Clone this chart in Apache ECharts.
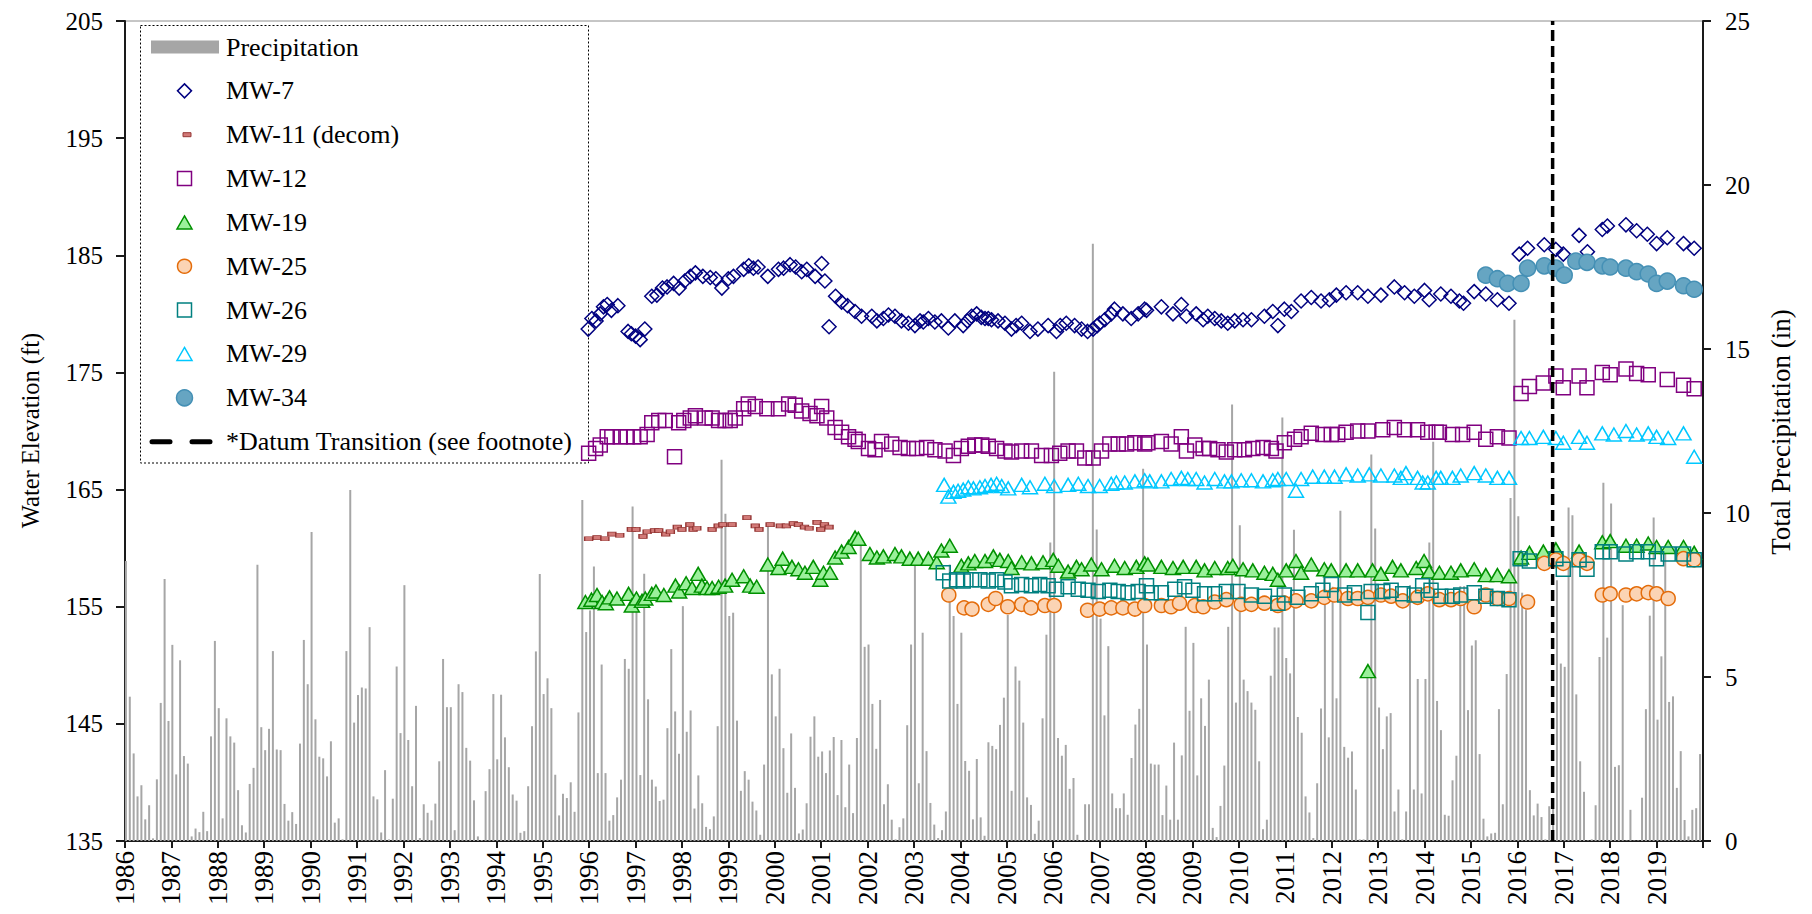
<!DOCTYPE html>
<html>
<head>
<meta charset="utf-8">
<title>Water Elevation and Precipitation</title>
<script src="https://cdn.jsdelivr.net/npm/echarts@6.0.0/dist/echarts.min.js"></script>
<style>
  html, body { margin: 0; padding: 0; background: #ffffff; }
  #chart { width: 1812px; height: 914px; }
</style>
</head>
<body>
<div id="chart"></div>
<script>
// ---------------------------------------------------------------
// Monthly total precipitation (in), Jan 1986 .. Dec 2019, one row per year
// ---------------------------------------------------------------
const precipStartYear = 1986;
const monthlyPrecip = [
  8.54, 4.40, 2.67, 1.36, 1.70, 0.66, 1.09, 0.08, 1.88, 4.21, 7.99, 3.66, // 1986
  5.98, 2.03, 5.51, 2.59, 2.36, 0.14, 0.38, 0.27, 0.89, 0.30, 3.19, 6.10, // 1987
  4.05, 0.69, 3.74, 3.19, 3.00, 1.55, 0.48, 0.26, 1.74, 2.23, 8.42, 3.47, // 1988
  2.77, 3.42, 5.79, 2.79, 2.77, 1.13, 0.62, 0.88, 0.52, 2.97, 6.13, 4.78, // 1989
  9.42, 3.71, 2.57, 2.52, 1.97, 3.04, 0.56, 0.69, 0.05, 5.79, 10.70, 3.61, // 1990
  4.45, 4.68, 4.65, 6.52, 1.36, 1.27, 0.26, 2.16, 0.05, 1.29, 5.32, 3.29, // 1991
  7.80, 3.08, 1.67, 4.12, 0.09, 1.12, 0.86, 0.63, 1.14, 2.43, 5.55, 4.08, // 1992
  4.08, 0.33, 4.78, 4.54, 2.84, 2.45, 1.24, 0.14, 0.03, 1.52, 2.19, 4.48, // 1993
  2.49, 4.46, 3.16, 2.25, 1.42, 1.23, 0.25, 0.30, 1.67, 3.50, 5.78, 8.14, // 1994
  4.48, 4.96, 4.05, 2.02, 0.78, 1.44, 1.31, 1.79, 0.89, 3.92, 10.40, 6.37, // 1995
  7.03, 8.37, 2.07, 5.38, 2.07, 0.62, 0.79, 1.33, 1.87, 5.55, 5.25, 10.20, // 1996
  7.10, 2.01, 8.15, 4.32, 1.87, 1.66, 1.22, 1.26, 3.44, 5.85, 3.95, 2.66, // 1997
  7.16, 3.33, 3.98, 0.99, 2.00, 1.15, 0.43, 0.36, 0.75, 3.50, 11.62, 9.98, // 1998
  6.86, 6.96, 3.67, 1.53, 2.13, 1.87, 1.20, 0.93, 0.19, 2.33, 9.60, 5.08, // 1999
  3.80, 5.25, 2.83, 1.47, 3.28, 1.62, 0.23, 0.35, 1.15, 3.18, 3.80, 2.57, // 2000
  2.73, 2.07, 2.76, 3.17, 1.40, 3.08, 1.03, 2.33, 0.85, 3.14, 9.20, 5.92, // 2001
  5.99, 4.18, 2.81, 4.30, 1.12, 1.73, 0.65, 0.05, 0.42, 0.69, 3.53, 5.99, // 2002
  8.46, 1.76, 6.35, 2.74, 1.16, 0.50, 0.09, 0.33, 0.90, 8.43, 6.86, 4.18, // 2003
  6.35, 2.44, 2.14, 0.66, 2.50, 0.72, 0.16, 3.01, 2.90, 2.80, 3.54, 4.37, // 2004
  6.89, 1.53, 5.32, 4.89, 3.61, 1.33, 1.10, 0.22, 0.62, 3.74, 6.29, 9.10, // 2005
  14.31, 3.14, 2.60, 2.93, 1.59, 1.92, 0.19, 0.03, 1.12, 1.12, 18.21, 9.50, // 2006
  6.78, 3.83, 5.94, 1.45, 1.00, 1.00, 1.45, 0.80, 2.53, 3.55, 4.03, 11.35, // 2007
  5.99, 2.36, 2.33, 2.33, 0.79, 1.69, 0.65, 3.00, 0.65, 2.61, 6.53, 3.97, // 2008
  6.04, 2.00, 4.35, 3.51, 4.92, 0.40, 0.12, 1.07, 2.30, 6.53, 13.31, 4.22, // 2009
  9.63, 4.92, 4.57, 4.22, 4.00, 2.43, 0.36, 0.65, 5.04, 6.51, 6.51, 12.91, // 2010
  5.58, 5.11, 9.49, 3.78, 3.30, 1.36, 0.87, 0.09, 1.76, 4.04, 8.03, 3.16, // 2011
  7.75, 4.35, 10.07, 2.87, 2.54, 2.73, 1.57, 0.05, 0.05, 5.18, 11.78, 9.53, // 2012
  4.07, 2.80, 3.80, 3.90, 0.90, 1.57, 0.05, 0.90, 7.80, 1.57, 4.94, 1.45, // 2013
  4.94, 9.10, 12.17, 4.27, 3.38, 0.80, 0.77, 1.85, 2.60, 7.77, 7.77, 3.99, // 2014
  5.96, 6.12, 2.65, 0.68, 0.14, 0.23, 0.25, 4.02, 1.12, 5.09, 10.46, 15.89, // 2015
  9.90, 7.57, 7.04, 1.55, 0.78, 1.14, 0.73, 0.05, 1.06, 1.00, 7.95, 5.41, // 2016
  5.31, 10.17, 9.93, 4.47, 2.43, 1.50, 0.02, 0.05, 1.09, 5.61, 10.92, 6.20, // 2017
  10.29, 2.26, 2.31, 7.19, 0.02, 0.95, 0.02, 0.02, 1.32, 4.02, 6.87, 9.86, // 2018
  3.70, 5.63, 8.95, 4.24, 4.41, 1.62, 2.74, 0.64, 0.14, 0.95, 1.00, 2.65  // 2019
];

// ---------------------------------------------------------------
// Groundwater elevations (ft): [decimal year, elevation]
// ---------------------------------------------------------------
const mw7 = [
  [1995.98,178.7],[1996.06,179.6],[1996.15,179.4],[1996.24,180.0],[1996.31,180.6],[1996.39,180.8],[1996.48,180.3],[1996.62,180.7],
  [1996.84,178.5],[1996.91,178.3],[1997.00,178.1],[1997.10,177.8],[1997.20,178.7],
  [1997.35,181.5],[1997.46,181.6],[1997.58,182.2],[1997.68,182.3],[1997.82,182.6],[1997.94,182.2],[1998.06,182.8],[1998.18,183.2],
  [1998.29,183.5],[1998.45,183.2],[1998.61,183.1],[1998.73,183.0],[1998.86,182.2],[1999.00,183.0],[1999.11,183.2],[1999.33,183.8],
  [1999.44,184.1],[1999.54,183.9],[1999.64,184.0],[1999.85,183.2],[2000.08,183.8],[2000.19,183.9],[2000.33,184.2],[2000.45,184.0],
  [2000.58,183.6],[2000.69,183.8],[2000.87,183.2],[2001.01,184.3],[2001.08,182.8],[2001.17,178.9],[2001.31,181.5],[2001.44,181.0],
  [2001.57,180.7],[2001.73,180.2],[2001.87,179.8],[2002.09,179.8],[2002.20,179.4],[2002.34,179.6],[2002.45,179.9],[2002.59,179.8],
  [2002.73,179.4],[2002.88,179.2],[2003.02,179.0],[2003.13,179.4],[2003.20,179.3],[2003.31,179.6],[2003.45,179.3],[2003.59,179.4],
  [2003.74,178.8],[2003.88,179.4],[2004.06,179.0],[2004.15,179.4],[2004.24,179.8],[2004.35,180.0],[2004.45,179.7],[2004.53,179.6],
  [2004.60,179.6],[2004.67,179.5],[2004.81,179.4],[2004.96,179.2],[2005.10,178.7],[2005.20,179.0],[2005.32,179.2],[2005.50,178.5],
  [2005.67,178.7],[2005.89,179.0],[2006.07,178.5],[2006.15,179.0],[2006.28,179.2],[2006.46,179.0],[2006.61,178.7],[2006.74,178.5],
  [2006.86,178.7],[2006.95,179.0],[2007.00,179.2],[2007.11,179.5],[2007.25,180.0],[2007.32,180.4],[2007.50,180.0],[2007.68,179.6],
  [2007.83,180.0],[2007.97,180.4],[2008.01,180.3],[2008.33,180.6],[2008.58,180.0],[2008.76,180.8],[2008.87,179.8],[2009.08,180.0],
  [2009.23,179.5],[2009.33,179.8],[2009.48,179.6],[2009.62,179.4],[2009.76,179.2],[2009.91,179.4],[2010.09,179.5],[2010.27,179.5],
  [2010.55,179.8],[2010.73,180.2],[2010.84,179.0],[2010.98,180.4],[2011.13,180.2],[2011.34,181.1],[2011.56,181.4],[2011.77,181.1],
  [2011.95,181.2],[2012.10,181.6],[2012.31,181.8],[2012.56,181.8],[2012.78,181.5],[2013.06,181.6],[2013.35,182.3],[2013.57,181.8],
  [2013.78,181.5],[2014.00,182.0],[2014.10,181.2],[2014.35,181.7],[2014.57,181.5],[2014.75,181.1],[2014.84,180.9],[2015.07,181.9],
  [2015.32,181.7],[2015.57,181.2],[2015.82,180.9],[2016.04,185.1],[2016.22,185.6],[2016.58,185.9],[2016.83,185.5],[2016.99,185.1],
  [2017.33,186.7],[2017.51,185.3],[2017.83,187.2],[2017.94,187.5],[2018.34,187.6],[2018.57,187.1],[2018.80,186.8],[2019.00,186.0],
  [2019.23,186.5],[2019.58,186.0],[2019.81,185.6]
];

const mw11 = [
  [1995.99,160.8],[1996.17,160.9],[1996.34,160.8],[1996.49,161.2],[1996.66,161.1],[1996.91,161.6],[1997.01,161.6],[1997.16,161.0],
  [1997.25,161.4],[1997.41,161.5],[1997.50,161.5],[1997.65,161.2],[1997.75,161.4],[1997.90,161.8],[1998.00,161.6],[1998.17,162.0],
  [1998.24,161.6],[1998.32,161.7],[1998.65,161.6],[1998.78,161.9],[1998.88,162.0],[1999.08,162.0],[1999.40,162.6],[1999.58,161.9],
  [1999.66,161.6],[1999.90,162.0],[2000.12,161.9],[2000.25,161.9],[2000.40,162.1],[2000.51,162.0],[2000.64,161.8],[2000.74,161.7],
  [2000.91,162.2],[2000.99,161.6],[2001.07,162.0],[2001.17,161.8]
];

const mw12 = [
  [1995.99,168.1],[1996.14,168.5],[1996.24,168.8],[1996.39,169.5],[1996.49,169.5],[1996.67,169.5],[1996.82,169.5],[1996.96,169.5],
  [1997.10,169.5],[1997.25,169.7],[1997.35,170.7],[1997.50,170.9],[1997.64,170.9],[1997.84,167.8],[1997.93,170.7],[1998.04,170.9],
  [1998.18,171.1],[1998.29,171.3],[1998.50,171.1],[1998.65,171.1],[1998.79,170.9],[1998.93,170.9],[1999.04,170.9],[1999.15,171.1],
  [1999.33,171.9],[1999.43,172.3],[1999.58,172.1],[1999.83,171.9],[2000.08,171.9],[2000.30,172.3],[2000.44,172.2],[2000.58,171.7],
  [2000.76,171.5],[2000.91,171.3],[2001.01,172.1],[2001.12,171.1],[2001.30,170.3],[2001.44,169.9],[2001.59,169.5],[2001.73,169.3],
  [2001.80,169.1],[2002.02,168.5],[2002.16,168.4],[2002.30,169.1],[2002.52,168.9],[2002.70,168.6],[2002.88,168.5],[2003.06,168.5],
  [2003.27,168.6],[2003.45,168.4],[2003.67,168.3],[2003.85,167.9],[2004.02,168.5],[2004.17,168.7],[2004.31,168.8],[2004.46,168.8],
  [2004.60,168.7],[2004.78,168.5],[2004.96,168.3],[2005.10,168.2],[2005.32,168.3],[2005.53,168.3],[2005.75,167.9],[2005.96,167.9],
  [2006.14,168.1],[2006.32,168.3],[2006.50,168.3],[2006.68,167.7],[2006.86,167.7],[2007.04,168.3],[2007.22,168.9],[2007.40,168.9],
  [2007.58,168.9],[2007.76,169.0],[2007.97,168.9],[2008.04,169.0],[2008.33,169.1],[2008.54,168.9],[2008.76,169.5],[2008.87,168.3],
  [2009.05,168.8],[2009.23,168.5],[2009.37,168.5],[2009.55,168.4],[2009.73,168.2],[2009.91,168.4],[2010.12,168.4],[2010.30,168.5],
  [2010.52,168.6],[2010.70,168.5],[2010.80,168.3],[2010.98,169.0],[2011.20,169.3],[2011.34,169.5],[2011.56,169.8],[2011.81,169.7],
  [2011.99,169.7],[2012.13,169.7],[2012.31,169.9],[2012.56,170.0],[2012.78,170.0],[2013.10,170.1],[2013.35,170.3],[2013.57,170.1],
  [2013.85,170.1],[2014.07,169.9],[2014.25,169.9],[2014.32,169.9],[2014.60,169.7],[2014.82,169.7],[2015.07,169.9],[2015.32,169.3],
  [2015.57,169.5],[2015.82,169.4],[2016.08,173.2],[2016.26,173.8],[2016.56,174.1],[2016.83,174.7],[2016.99,173.7],[2017.33,174.7],
  [2017.50,173.7],[2017.83,175.0],[2018.00,174.8],[2018.34,175.3],[2018.57,174.9],[2018.82,174.8],[2019.23,174.4],[2019.58,173.9],
  [2019.81,173.6]
];

const mw19 = [
  [1995.92,155.4],[1996.05,155.6],[1996.17,156.0],[1996.28,155.4],[1996.36,155.3],[1996.44,155.8],[1996.60,155.7],[1996.85,156.1],
  [1996.92,155.1],[1997.02,155.7],[1997.14,155.5],[1997.21,155.7],[1997.35,156.1],[1997.44,156.3],[1997.61,156.0],[1997.86,156.8],
  [1997.94,156.3],[1998.09,157.0],[1998.22,156.6],[1998.35,157.8],[1998.43,156.8],[1998.54,156.6],[1998.65,156.6],[1998.79,156.7],
  [1998.93,156.8],[1999.08,157.3],[1999.33,157.6],[1999.47,156.8],[1999.61,156.7],[1999.85,158.6],[2000.08,158.3],[2000.17,159.1],
  [2000.37,158.4],[2000.51,158.2],[2000.65,157.9],[2000.83,158.4],[2000.98,157.3],[2001.05,157.9],[2001.19,157.9],[2001.30,159.2],
  [2001.44,159.7],[2001.59,160.1],[2001.73,160.9],[2001.80,160.8],[2002.05,159.5],[2002.20,159.2],[2002.34,159.3],[2002.59,159.5],
  [2002.73,159.3],[2002.91,159.1],[2003.09,159.1],[2003.31,159.1],[2003.49,158.8],[2003.59,159.8],[2003.77,160.2],[2004.02,158.5],
  [2004.17,158.7],[2004.31,158.9],[2004.53,158.9],[2004.71,159.3],[2004.85,159.0],[2005.03,158.9],[2005.10,158.3],[2005.32,158.8],
  [2005.53,158.7],[2005.78,158.8],[2006.00,159.0],[2006.11,158.5],[2006.32,158.0],[2006.50,158.4],[2006.61,158.2],[2006.82,158.6],
  [2007.04,158.2],[2007.32,158.5],[2007.54,158.3],[2007.79,158.4],[2007.97,158.7],[2008.04,158.6],[2008.33,158.4],[2008.58,158.3],
  [2008.80,158.4],[2009.08,158.4],[2009.26,158.1],[2009.48,158.3],[2009.76,158.3],[2009.87,158.5],[2010.09,158.2],[2010.30,158.1],
  [2010.55,157.9],[2010.73,157.8],[2010.84,157.3],[2011.02,158.1],[2011.23,158.9],[2011.34,157.9],[2011.56,158.6],[2011.84,158.2],
  [2011.99,158.1],[2012.31,158.1],[2012.56,158.1],[2012.78,149.5],[2012.88,158.1],[2013.06,157.8],[2013.31,158.4],[2013.49,158.1],
  [2013.82,158.3],[2013.99,158.9],[2014.10,158.0],[2014.32,157.9],[2014.57,157.9],[2014.78,158.1],[2015.07,158.2],[2015.32,157.7],
  [2015.57,157.7],[2015.82,157.6],[2016.08,159.2],[2016.26,159.6],[2016.56,159.7],[2016.83,159.9],[2017.33,159.7],[2017.83,160.5],
  [2018.00,160.6],[2018.34,160.2],[2018.57,160.2],[2018.82,160.4],[2019.00,160.1],[2019.25,160.1],[2019.58,160.1],[2019.81,159.6]
];

const mw25 = [
  [2003.75,156.0],[2004.08,154.9],[2004.25,154.8],[2004.60,155.2],[2004.76,155.7],[2005.02,155.0],[2005.32,155.2],[2005.52,154.9],
  [2005.82,155.1],[2006.02,155.1],[2006.74,154.7],[2007.00,154.8],[2007.25,154.9],[2007.50,154.9],[2007.76,154.8],[2007.97,155.1],
  [2008.33,155.1],[2008.54,155.0],[2008.72,155.3],[2009.05,155.1],[2009.23,155.0],[2009.48,155.4],[2009.73,155.6],[2010.05,155.2],
  [2010.27,155.2],[2010.55,155.3],[2010.84,155.1],[2010.98,155.3],[2011.23,155.5],[2011.56,155.5],[2011.84,155.8],[2012.06,156.0],
  [2012.35,155.7],[2012.56,155.7],[2012.78,155.8],[2013.06,156.0],[2013.28,155.9],[2013.53,155.5],[2013.85,155.8],[2014.07,156.1],
  [2014.32,155.6],[2014.57,155.6],[2014.78,155.7],[2015.07,155.0],[2015.32,156.0],[2015.57,155.7],[2015.82,155.7],[2016.22,155.4],
  [2016.58,158.7],[2016.83,159.0],[2016.99,158.7],[2017.33,159.0],[2017.50,158.7],[2017.83,156.0],[2018.00,156.1],[2018.34,156.0],
  [2018.57,156.1],[2018.82,156.2],[2019.00,156.1],[2019.25,155.7],[2019.58,159.1],[2019.81,159.0]
];

const mw26 = [
  [2003.63,157.9],[2003.77,157.2],[2003.92,157.3],[2004.06,157.2],[2004.24,157.3],[2004.42,157.3],[2004.60,157.2],[2004.78,157.3],
  [2004.96,157.1],[2005.10,156.8],[2005.32,156.9],[2005.53,156.8],[2005.71,156.9],[2005.89,156.8],[2006.07,156.5],[2006.32,156.7],
  [2006.54,156.5],[2006.75,156.4],[2006.97,156.3],[2007.22,156.4],[2007.40,156.3],[2007.61,156.2],[2007.83,156.3],[2008.01,156.8],
  [2008.11,156.2],[2008.33,156.2],[2008.62,156.5],[2008.83,156.7],[2009.01,156.4],[2009.26,156.1],[2009.48,156.1],[2009.73,156.3],
  [2009.98,156.3],[2010.27,156.0],[2010.55,155.9],[2010.84,155.3],[2010.98,156.0],[2011.27,155.8],[2011.56,156.1],[2011.81,156.4],
  [2011.99,156.9],[2012.28,156.0],[2012.49,156.2],[2012.78,154.5],[2012.85,156.3],[2013.10,156.3],[2013.28,156.4],[2013.53,156.1],
  [2013.78,156.0],[2013.96,156.8],[2014.14,156.4],[2014.35,155.9],[2014.60,155.9],[2014.78,156.0],[2015.07,156.2],[2015.32,155.9],
  [2015.57,155.7],[2015.82,155.6],[2016.06,159.1],[2016.26,158.9],[2016.83,159.1],[2016.99,158.2],[2017.33,159.0],[2017.50,158.2],
  [2017.83,159.7],[2018.00,159.7],[2018.34,159.5],[2018.57,159.7],[2018.82,159.7],[2019.00,159.1],[2019.25,159.5],[2019.58,159.5],
  [2019.81,159.0]
];

const mw29 = [
  [2003.65,165.4],[2003.74,164.4],[2003.85,164.8],[2003.95,164.9],[2004.06,165.0],[2004.17,165.2],[2004.28,165.1],[2004.42,165.2],
  [2004.53,165.3],[2004.66,165.4],[2004.78,165.5],[2004.89,165.3],[2005.03,165.1],[2005.32,165.4],[2005.50,165.2],[2005.82,165.5],
  [2006.02,165.3],[2006.32,165.4],[2006.54,165.5],[2006.75,165.3],[2007.00,165.3],[2007.25,165.5],[2007.36,165.6],[2007.54,165.6],
  [2007.76,165.7],[2007.97,165.8],[2008.08,165.7],[2008.33,165.7],[2008.54,165.9],[2008.76,166.0],[2008.90,165.9],[2009.08,165.9],
  [2009.26,165.6],[2009.48,165.9],[2009.69,165.7],[2009.84,165.7],[2010.05,165.8],[2010.27,165.8],[2010.52,165.7],[2010.73,165.8],
  [2010.84,165.9],[2011.02,165.9],[2011.23,164.9],[2011.34,165.9],[2011.59,166.1],[2011.84,166.1],[2012.06,166.1],[2012.31,166.3],
  [2012.56,166.2],[2012.81,166.3],[2013.06,166.2],[2013.35,166.2],[2013.49,166.0],[2013.60,166.4],[2013.85,166.0],[2013.96,165.6],
  [2014.07,165.6],[2014.25,166.0],[2014.35,166.0],[2014.60,166.0],[2014.78,166.2],[2015.07,166.4],[2015.32,166.2],[2015.57,166.0],
  [2015.82,166.0],[2016.08,169.4],[2016.26,169.4],[2016.56,169.5],[2016.83,169.4],[2016.99,169.0],[2017.33,169.5],[2017.50,169.0],
  [2017.83,169.8],[2018.08,169.7],[2018.34,170.0],[2018.57,169.7],[2018.82,169.8],[2019.00,169.5],[2019.25,169.4],[2019.58,169.8],
  [2019.81,167.8]
];

const mw34 = [
  [2015.32,183.3],[2015.57,183.0],[2015.79,182.6],[2016.08,182.6],[2016.22,183.9],[2016.58,184.1],[2016.83,183.9],[2017.01,183.3],
  [2017.26,184.5],[2017.50,184.4],[2017.83,184.1],[2018.00,184.0],[2018.34,183.9],[2018.57,183.6],[2018.82,183.4],[2019.00,182.6],
  [2019.23,182.8],[2019.58,182.4],[2019.81,182.1]
];

// Date of the vertical datum change (decimal year)
const datumTransitionYear = 2016.76;

// Axis extents
const yearRange = [1986, 2020];
const elevationRange = [135, 205];
const precipRange = [0, 25];

// ---------------------------------------------------------------
// Styling
// ---------------------------------------------------------------
const FONT = "'Liberation Serif', 'Times New Roman', serif";
const AXIS_COLOR = '#1a1a1a';
const BAR_COLOR = '#a6a6a6';

const wells = [
  { name: 'MW-7',          data: mw7,  symbol: 'diamond',  size: 14,      fill: 'rgba(0,0,0,0)', stroke: '#000080', lw: 1.5 },
  { name: 'MW-11 (decom)', data: mw11, symbol: 'rect',     size: [8, 4],  fill: '#d27a78',       stroke: '#953735', lw: 1 },
  { name: 'MW-12',         data: mw12, symbol: 'rect',     size: 14,      fill: 'rgba(0,0,0,0)', stroke: '#800080', lw: 1.5 },
  { name: 'MW-19',         data: mw19, symbol: 'triangle', size: [15, 13], fill: '#9bf09b',      stroke: '#009000', lw: 1.5 },
  { name: 'MW-25',         data: mw25, symbol: 'circle',   size: 14,      fill: '#fbd4b4',       stroke: '#e46c0a', lw: 1.5 },
  { name: 'MW-26',         data: mw26, symbol: 'rect',     size: 14,      fill: 'rgba(0,0,0,0)', stroke: '#008080', lw: 1.5 },
  { name: 'MW-29',         data: mw29, symbol: 'triangle', size: [15, 13], fill: 'rgba(0,0,0,0)', stroke: '#00c8ff', lw: 1.5 },
  { name: 'MW-34',         data: mw34, symbol: 'circle',   size: 16,      fill: '#66a5c2',       stroke: '#4590b5', lw: 1.5 }
];

// ---------------------------------------------------------------
// Series
// ---------------------------------------------------------------
const precipData = monthlyPrecip.map((v, i) => [precipStartYear + i / 12 + 0.02, v]);

const series = [
  {
    name: 'Precipitation',
    type: 'bar',
    xAxisIndex: 0,
    yAxisIndex: 1,
    data: precipData,
    barWidth: 2,
    itemStyle: { color: BAR_COLOR },
    silent: true,
    z: 1
  }
];

wells.forEach((w, k) => {
  series.push({
    name: w.name,
    type: 'scatter',
    xAxisIndex: 0,
    yAxisIndex: 0,
    data: w.data,
    symbol: w.symbol,
    symbolSize: w.size,
    itemStyle: { color: w.fill, borderColor: w.stroke, borderWidth: w.lw, opacity: 1 },
    silent: true,
    z: 3 + k
  });
});

series.push({
  name: '*Datum Transition (see footnote)',
  type: 'line',
  xAxisIndex: 0,
  yAxisIndex: 0,
  data: [[datumTransitionYear, elevationRange[0]], [datumTransitionYear, elevationRange[1]]],
  symbol: 'none',
  lineStyle: { color: '#000', width: 3.5, type: [11, 5] },
  silent: true,
  z: 20
});

// ---------------------------------------------------------------
// Legend box (drawn with graphic elements)
// ---------------------------------------------------------------
const legendBox = { x: 140.5, y: 25.5, w: 448, h: 437.5 };
const legendFirstRow = 47;
const legendRowStep = 43.85;
const legendIconX = 184.5;
const legendTextX = 226;

function legendMarker(w, cy) {
  const cx = legendIconX;
  const style = { fill: w.fill, stroke: w.stroke, lineWidth: w.lw };
  const sw = Array.isArray(w.size) ? w.size[0] : w.size;
  const sh = Array.isArray(w.size) ? w.size[1] : w.size;
  if (w.symbol === 'diamond') {
    return { type: 'polygon', shape: { points: [[cx, cy - sh / 2], [cx + sw / 2, cy], [cx, cy + sh / 2], [cx - sw / 2, cy]] }, style };
  }
  if (w.symbol === 'triangle') {
    return { type: 'polygon', shape: { points: [[cx, cy - sh / 2], [cx + sw / 2, cy + sh / 2], [cx - sw / 2, cy + sh / 2]] }, style };
  }
  if (w.symbol === 'circle') {
    return { type: 'circle', shape: { cx: cx, cy: cy, r: sw / 2 }, style };
  }
  const dx = w.name === 'MW-11 (decom)' ? 2.5 : 0;
  return { type: 'rect', shape: { x: cx - sw / 2 + dx, y: cy - sh / 2, width: sw, height: sh }, style };
}

const legendLabel = (text, cy) => ({
  type: 'text',
  x: legendTextX,
  y: cy,
  style: { text: text, font: '26px ' + FONT, fill: '#000', align: 'left', verticalAlign: 'middle' },
  silent: true
});

const graphics = [
  {
    type: 'rect',
    shape: { x: legendBox.x, y: legendBox.y, width: legendBox.w, height: legendBox.h },
    style: { fill: 'none', stroke: '#000', lineWidth: 1, lineDash: [2, 2] },
    silent: true
  }
];

let row = 0;
let cy = legendFirstRow;
graphics.push({ type: 'rect', shape: { x: 151, y: cy - 6.5, width: 68, height: 13 }, style: { fill: BAR_COLOR }, silent: true });
graphics.push(legendLabel('Precipitation', cy));
wells.forEach((w) => {
  row += 1;
  cy = legendFirstRow + row * legendRowStep;
  const m = legendMarker(w, cy);
  m.silent = true;
  graphics.push(m);
  graphics.push(legendLabel(w.name, cy));
});
row += 1;
cy = legendFirstRow + row * legendRowStep;
graphics.push({ type: 'line', shape: { x1: 152, y1: cy, x2: 170, y2: cy }, style: { stroke: '#000', lineWidth: 5, lineCap: 'round' }, silent: true });
graphics.push({ type: 'line', shape: { x1: 192, y1: cy, x2: 210, y2: cy }, style: { stroke: '#000', lineWidth: 5, lineCap: 'round' }, silent: true });
graphics.push(legendLabel('*Datum Transition (see footnote)', cy));

// Axis titles
graphics.push({
  type: 'text', x: 30, y: 430.5, rotation: Math.PI / 2,
  style: { text: 'Water Elevation (ft)', font: '24.5px ' + FONT, fill: '#000', align: 'center', verticalAlign: 'middle' },
  silent: true
});
graphics.push({
  type: 'text', x: 1781, y: 432, rotation: Math.PI / 2,
  style: { text: 'Total Precipitation (in)', font: '27px ' + FONT, fill: '#000', align: 'center', verticalAlign: 'middle' },
  silent: true
});

// ---------------------------------------------------------------
// Chart
// ---------------------------------------------------------------
const axisLineStyle = { color: AXIS_COLOR, width: 2 };
const tickLabelStyle = { fontFamily: FONT, color: '#000' };

const option = {
  animation: false,
  backgroundColor: '#ffffff',
  grid: {
    left: 125, top: 21, width: 1578, height: 820,
    show: true, borderColor: '#8c8c8c', borderWidth: 1, backgroundColor: 'transparent',
    containLabel: false, outerBoundsMode: 'none'
  },
  xAxis: {
    type: 'value',
    min: yearRange[0], max: yearRange[1], interval: 1,
    axisLine: { show: true, onZero: false, lineStyle: axisLineStyle },
    axisTick: { show: true, inside: false, length: 7, lineStyle: axisLineStyle },
    axisLabel: Object.assign({
      rotate: 90, margin: 10, fontSize: 27,
      formatter: (v) => (v >= yearRange[1] ? '' : String(v))
    }, tickLabelStyle),
    splitLine: { show: false }
  },
  yAxis: [
    {
      type: 'value', position: 'left',
      min: elevationRange[0], max: elevationRange[1], interval: 10,
      axisLine: { show: true, onZero: false, lineStyle: axisLineStyle },
      axisTick: { show: true, inside: false, length: 9, lineStyle: axisLineStyle },
      axisLabel: Object.assign({ fontSize: 25, margin: 22, formatter: (v) => String(v) }, tickLabelStyle),
      splitLine: { show: false }
    },
    {
      type: 'value', position: 'right',
      min: precipRange[0], max: precipRange[1], interval: 5,
      axisLine: { show: true, onZero: false, lineStyle: axisLineStyle },
      axisTick: { show: true, inside: false, length: 8, lineStyle: axisLineStyle },
      axisLabel: Object.assign({ fontSize: 25, margin: 22, formatter: (v) => String(v) }, tickLabelStyle),
      splitLine: { show: false }
    }
  ],
  tooltip: { show: false },
  legend: { show: false },
  graphic: graphics,
  series: series
};

const chart = echarts.init(document.getElementById('chart'), null, { renderer: 'svg', width: 1812, height: 914 });
chart.setOption(option);
</script>
</body>
</html>
